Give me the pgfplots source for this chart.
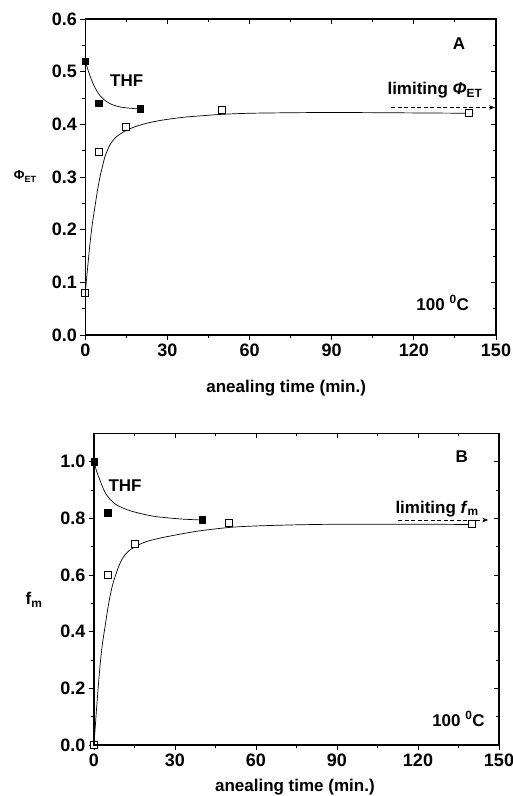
\documentclass[border=0pt]{standalone}
\usepackage{fontspec}
\setmainfont{Liberation Sans}
\usepackage{pgfplots}
\pgfplotsset{compat=1.18}
\usetikzlibrary{arrows.meta}

\newcommand{\lbl}{\fontsize{17bp}{20bp}\selectfont\bfseries}
\newcommand{\tkl}{\fontsize{18bp}{20bp}\selectfont\bfseries}

\pgfplotsset{
  frame/.style={
    scale only axis, clip=false,
    axis line style={line width=1.1pt},
    every tick/.style={black, line width=0.9pt},
    major tick length=5bp, minor tick length=3bp,
    minor x tick num=1, minor y tick num=1,
    xmin=0, xmax=150, xtick={0,30,60,90,120,150},
    /pgf/number format/assume math mode=true,
    ticklabel style={font=\tkl},
  },
  outer/.style={frame, xtick pos=left, ytick pos=left, tick align=outside,
    yticklabel style={/pgf/number format/.cd, fixed, fixed zerofill, precision=1}},
  inner/.style={frame, xtick pos=right, ytick pos=right, tick align=inside,
    xticklabels={}, yticklabels={}},
  fit/.style={black, line width=0.7pt, smooth, no marks},
  full/.style={only marks, mark=square*, mark size=3.3bp, mark options={fill=black, draw=black}},
  open/.style={only marks, mark=square*, mark size=3.5bp, mark options={fill=white, draw=black, line width=0.9pt}},
  limit/.style={black, line width=0.8pt, dash pattern=on 4bp off 2.5bp, -{Stealth[length=6bp,width=4.5bp]}},
}

\begin{document}
\begin{tikzpicture}
\useasboundingbox (0,0) rectangle (513bp,796bp);

% ---- panel A
\begin{axis}[outer, at={(85.3bp,461bp)}, anchor=south west,
    width=410.7bp, height=316bp,
    ymin=0, ymax=0.6, ytick={0,0.1,0.2,0.3,0.4,0.5,0.6},
    xlabel={anealing time (min.)},
    every axis x label/.style={at={(axis description cs:0.489,-0.168)}, anchor=center, font=\lbl},
    ylabel={{\fontsize{13bp}{15bp}\selectfont\bfseries Φ}{\fontsize{9bp}{10bp}\selectfont\bfseries\raisebox{-3bp}{ET}}},
    every axis y label/.style={at={(axis description cs:-0.147,0.5)}, anchor=center}]
\addplot[fit] coordinates {
  (0,0.520) (1,0.503) (2.3,0.484) (3.5,0.470) (4.75,0.459) (6,0.451) (7.8,0.443)
  (10,0.437) (12.7,0.433) (15.5,0.431) (18.8,0.4295) (20,0.429)
};
\addplot[fit] coordinates {
  (0,0.08) (0.8,0.125) (1.72,0.174) (2.6,0.212) (3.54,0.244) (4.4,0.273) (5.37,0.300)
  (6.3,0.321) (7.2,0.339) (8.1,0.351) (9.0,0.361) (10.2,0.370) (11.5,0.377)
  (13.2,0.383) (15.1,0.389) (18.5,0.396) (22.4,0.402) (27,0.407) (32.1,0.411)
  (37,0.414) (41.9,0.416) (50,0.419) (60,0.421) (75,0.422) (90,0.4225)
  (110,0.422) (125,0.4215) (140,0.421)
};
\addplot[full] coordinates {(0,0.52) (5,0.44) (20,0.43)};
\addplot[open] coordinates {(0,0.079) (5,0.347) (15,0.395) (50,0.427) (140,0.421)};
\addplot[limit] coordinates {(111.8,0.432) (149.6,0.432)};
\node[anchor=base east, inner sep=0, font=\lbl] at (axis cs:145.1,0.456)
  {limiting \textit{Φ}\textsubscript{ET}};
\node[anchor=center, font=\lbl] at (axis cs:15.1,0.482) {THF};
\node[anchor=center, font=\lbl] at (axis cs:136.5,0.554) {A};
\node[anchor=base east, inner sep=0, font=\lbl] at (axis cs:140.2,0.047)
  {100 \textsuperscript{0}C};
\end{axis}
\begin{axis}[inner, at={(85.3bp,461bp)}, anchor=south west,
    width=410.7bp, height=316bp,
    ymin=0, ymax=0.6, ytick={0,0.1,0.2,0.3,0.4,0.5,0.6}]
\end{axis}

% ---- panel B
\begin{axis}[outer, at={(94bp,51bp)}, anchor=south west,
    width=405bp, height=311.7bp,
    ymin=0, ymax=1.1, ytick={0,0.2,0.4,0.6,0.8,1.0},
    xlabel={anealing time (min.)},
    every axis x label/.style={at={(axis description cs:0.496,-0.135)}, anchor=center, font=\lbl},
    ylabel={f\textsubscript{m}},
    every axis y label/.style={at={(axis description cs:-0.148,0.465)}, anchor=center, font=\lbl}]
\addplot[fit] coordinates {
  (0,1.0) (1,0.965) (2.2,0.935) (3.4,0.905) (4.7,0.882) (6.5,0.862) (8.4,0.847)
  (10.8,0.836) (13.3,0.827) (16.3,0.819) (19.5,0.812) (23,0.806) (26.9,0.802)
  (33,0.797) (40,0.794)
};
\addplot[fit] coordinates {
  (0,0.0) (1.0,0.135) (2.2,0.276) (3.1,0.355) (4.1,0.418) (5.0,0.475) (5.9,0.523)
  (6.8,0.562) (7.8,0.594) (9.0,0.626) (10.2,0.653) (11.7,0.673) (13.3,0.688)
  (16.2,0.705) (19.5,0.718) (23,0.727) (26.9,0.735) (33,0.746) (39.3,0.756)
  (50.4,0.768) (60,0.773) (75,0.777) (90,0.779) (110,0.779) (125,0.779) (140,0.778)
};
\addplot[full] coordinates {(0,1.0) (5,0.82) (40,0.795)};
\addplot[open] coordinates {(0,0.0) (5,0.60) (15,0.71) (50,0.785) (140,0.779)};
\addplot[limit] coordinates {(112.7,0.794) (146,0.794)};
\node[anchor=base east, inner sep=0, font=\lbl] at (axis cs:142.6,0.818)
  {limiting \textit{f}\textsubscript{m}};
\node[anchor=center, font=\lbl] at (axis cs:11.5,0.914) {THF};
\node[anchor=center, font=\lbl] at (axis cs:136.2,1.016) {B};
\node[anchor=base east, inner sep=0, font=\lbl] at (axis cs:144.8,0.067)
  {100 \textsuperscript{0}C};
\end{axis}
\begin{axis}[inner, at={(94bp,51bp)}, anchor=south west,
    width=405bp, height=311.7bp,
    ymin=0, ymax=1.1, ytick={0,0.2,0.4,0.6,0.8,1.0}]
\end{axis}
\end{tikzpicture}
\end{document}
